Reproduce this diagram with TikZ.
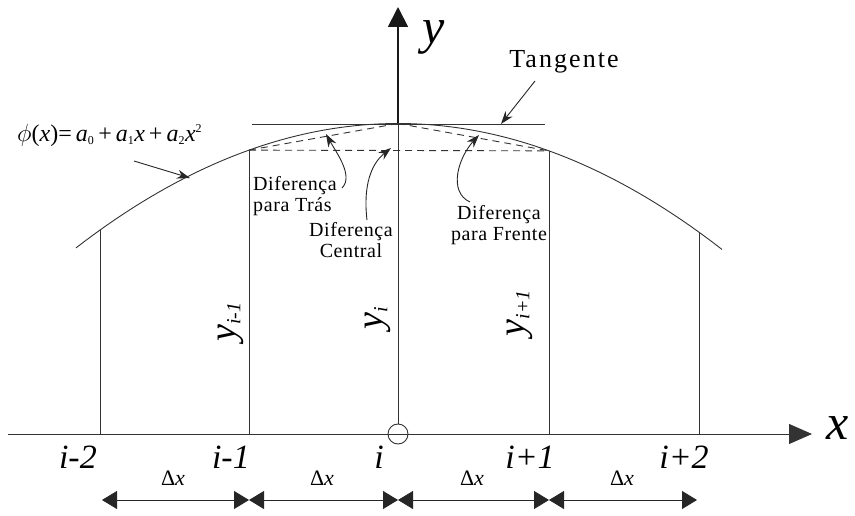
\documentclass[tikz,border=0pt]{standalone}
\usepackage{fontspec}
\setmainfont{Liberation Serif}
\usetikzlibrary{arrows.meta}
\begin{document}
\begin{tikzpicture}[x=1pt,y=-1pt,
  thinline/.style={line width=0.9pt, draw=black!80},
  dashline/.style={line width=0.9pt, draw=black!80, dash pattern=on 7pt off 5pt},
  pointer/.style={line width=0.9pt, draw=black!85, -{Stealth[length=13pt,width=9pt]}},
  dimarrow/.style={line width=0.9pt, draw=black!85, {Triangle[length=15pt,width=18pt]}-{Triangle[length=15pt,width=18pt]}},
  smalltxt/.style={font=\fontsize{20}{21}\selectfont\addfontfeatures{LetterSpace=3}, align=left, inner sep=0pt},
  ilabel/.style={font=\fontsize{34}{34}\selectfont\itshape, inner sep=0pt},
  ylabel/.style={font=\fontsize{38}{38}\selectfont\itshape, rotate=90, inner sep=0pt},
  dxlabel/.style={font=\fontsize{22}{22}\selectfont, inner sep=0pt}
]
\useasboundingbox (0,0) rectangle (855,516);
% axis points
\coordinate (a-2) at (100,434);
\coordinate (a-1) at (249,434);
\coordinate (a0) at (398,434);
\coordinate (a1) at (549,434);
\coordinate (a2) at (699,434);
% curve points
\coordinate (c-2) at (100,{123.5+(0.03464*(100-398))^2});
\coordinate (c-1) at (249,{123.5+(0.03464*(249-398))^2});
\coordinate (c0) at (398,123.5);
\coordinate (c1) at (549,{123.5+(0.03464*(549-398))^2});
\coordinate (c2) at (699,{123.5+(0.03464*(699-398))^2});
% axes
\coordinate (xs) at (8,434);
\coordinate (xe) at (812,434);
\coordinate (ye) at (398,7);
\draw[thinline, -{Triangle[length=23pt,width=20pt]}] (xs) -- (xe);
\node[font=\fontsize{50}{50}\selectfont\itshape, inner sep=0pt] (xl) at (838,428) {x};
\node[circle, draw=black!80, line width=0.9pt, minimum size=20pt, inner sep=0pt] (orig) at (a0) {};
\draw[thinline] (orig) -- (c0);
\draw[line width=1.8pt, draw=black!90, -{Triangle[length=20pt,width=20pt]}] (c0) -- (ye);
\node[font=\fontsize{50}{50}\selectfont\itshape, inner sep=0pt] (yl) at (434,37) {y};
% curve
\draw[thinline] plot[domain=76:722, samples=80] (\x, {123.5+(0.03464*(\x-398))^2});
% verticals
\draw[thinline] (a-2) -- (c-2);
\draw[thinline] (a-1) -- (c-1);
\draw[thinline] (a1) -- (c1);
\draw[thinline] (a2) -- (c2);
% tangent
\coordinate (t0) at (252,124);
\coordinate (t1) at (545,124);
\draw[thinline] (t0) -- (t1);
% dashed
\draw[dashline] (c-1) -- (c1);
\draw[dashline] (c-1) -- (c0);
\draw[dashline] (c0) -- (c1);
% labels on axis
\node[ilabel, anchor=east] (l-2) at (97,457) {i-2};
\node[ilabel, anchor=east] (l-1) at (250,457) {i-1};
\node[ilabel] (l0) at (379,457) {i};
\node[ilabel] (l1) at (530,457) {i+1};
\node[ilabel] (l2) at (684,457) {i+2};
% y labels
\node[ylabel] (y-1) at (231,322) {y\textsubscript{\fontsize{20}{20}\selectfont i-1}};
\node[ylabel] (y0) at (378,318) {y\textsubscript{\fontsize{20}{20}\selectfont i}};
\node[ylabel] (y1) at (520,313) {y\textsubscript{\fontsize{20}{20}\selectfont i+1}};
% dimension arrows
\coordinate (d-2) at (102,500);
\coordinate (d-1) at (249,500);
\coordinate (d0) at (398,500);
\coordinate (d1) at (549,500);
\coordinate (d2) at (697,500);
\draw[dimarrow] (d-2) -- (d-1);
\draw[dimarrow] (d-1) -- (d0);
\draw[dimarrow] (d0) -- (d1);
\draw[dimarrow] (d1) -- (d2);
\node[dxlabel] (dx1) at (173,478) {Δ\textit{x}};
\node[dxlabel] (dx2) at (322,478) {Δ\textit{x}};
\node[dxlabel] (dx3) at (472,478) {Δ\textit{x}};
\node[dxlabel] (dx4) at (622,478) {Δ\textit{x}};
% formula
\node[font=\fontsize{24}{24}\selectfont, anchor=west, inner sep=0pt] (phi) at (17,135)
  {$\phi$(\textit{x})=\,\textit{a}$_{\textrm{\fontsize{12}{12}\selectfont 0}}$\,+\,\textit{a}$_{\textrm{\fontsize{12}{12}\selectfont 1}}$\textit{x}\,+\,\textit{a}$_{\textrm{\fontsize{12}{12}\selectfont 2}}$\textit{x}$^{\textrm{\fontsize{12}{12}\selectfont 2}}$};
\coordinate (phis) at (134,161);
\coordinate (phie) at (190,178);
\draw[pointer] (phis) -- (phie);
% tangente
\node[font=\fontsize{26}{26}\selectfont\addfontfeatures{LetterSpace=8}, inner sep=0pt] (tang) at (564,62) {Tangente};
\coordinate (tans) at (535,81);
\coordinate (tane) at (501,124);
\draw[pointer] (tans) -- (tane);
% difference texts
\node[smalltxt, anchor=north west] (tras) at (253,176) {Diferença\\para Trás};
\node[smalltxt, align=center, anchor=north] (cent) at (351,222) {Diferença\\Central};
\node[smalltxt, align=center, anchor=north] (fren) at (499,205) {Diferença\\para Frente};
\coordinate (trs) at (342,188);
\coordinate (tre) at (326,134);
\draw[pointer] (trs) .. controls (354,176) and (336,152) .. (tre);
\coordinate (ces) at (367,220);
\coordinate (cee) at (391,148);
\draw[pointer] (ces) .. controls (363,186) and (371,164) .. (cee);
\coordinate (frs) at (470,202);
\coordinate (fre) at (479,135);
\draw[pointer] (frs) .. controls (448,192) and (458,158) .. (fre);
\end{tikzpicture}
\end{document}
